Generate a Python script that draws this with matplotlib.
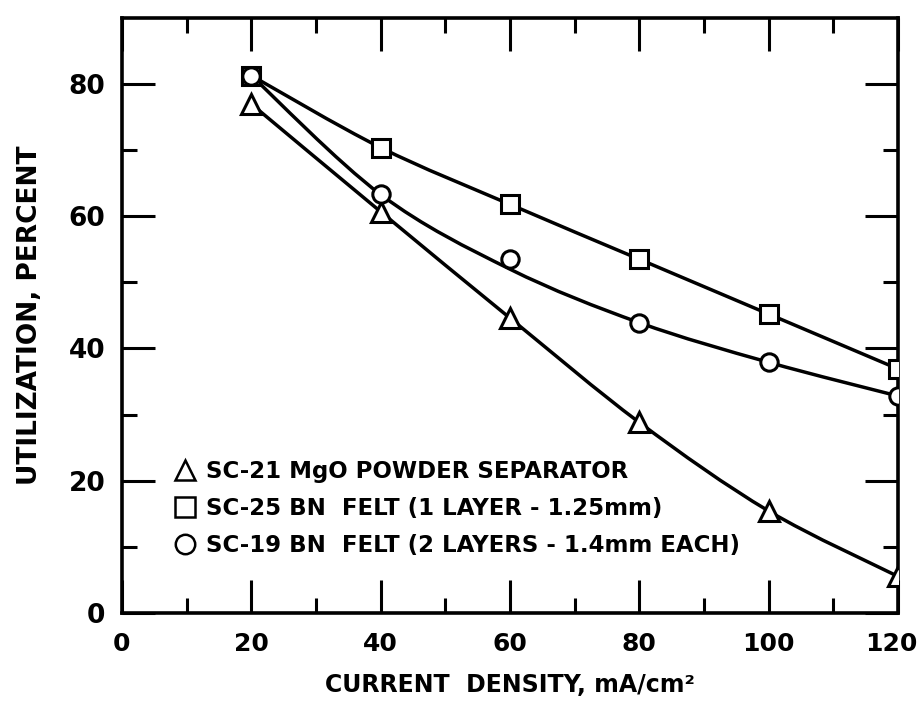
import numpy as np
import matplotlib
matplotlib.use('Agg')
from matplotlib import pyplot as plt
from matplotlib import transforms
from matplotlib.path import Path
from matplotlib.patches import PathPatch
from matplotlib.lines import Line2D

# current density, mA/cm2
current = [20, 40, 60, 80, 100, 120]

# utilization, percent (measured points)
util_sc21 = [77.0, 60.7, 44.6, 28.8, 15.4, 5.5]
util_sc25 = [81.3, 70.4, 61.8, 53.5, 45.2, 36.9]
util_sc19 = [81.3, 63.3, 53.5, 43.9, 37.9, 32.8]

# hand-drawn curve levels for SC-19 (curve misses the 60 point)
curve_sc19 = [81.3, 63.3, 52.0, 43.9, 37.9, 32.8]

labels = ['SC-21 MgO POWDER SEPARATOR',
          'SC-25 BN  FELT (1 LAYER - 1.25mm)',
          'SC-19 BN  FELT (2 LAYERS - 1.4mm EACH)']

x_ticks = [0, 20, 40, 60, 80, 100, 120]
y_ticks = [0, 20, 40, 60, 80]


def smooth_path(x, y):
    """Catmull-Rom through the points, as cubic bezier path."""
    p = np.column_stack([x, y]).astype(float)
    ext = np.vstack([p[0], p, p[-1]])
    verts = [p[0]]
    codes = [Path.MOVETO]
    for i in range(len(p) - 1):
        p0, p1, p2, p3 = ext[i], ext[i + 1], ext[i + 2], ext[i + 3]
        verts += [p1 + (p2 - p0) / 6, p2 - (p3 - p1) / 6, p2]
        codes += [Path.CURVE4] * 3
    return Path(verts, codes)


plt.rcParams['font.family'] = 'DejaVu Sans'
plt.rcParams['font.weight'] = 'bold'

fig = plt.figure(figsize=(9.23, 7.06), dpi=100)
ax = fig.add_axes([0.132, 0.132, 0.841, 0.8425])

lw = 2.5
for yy in [util_sc21, util_sc25, curve_sc19]:
    ax.add_patch(PathPatch(smooth_path(current, yy), fill=False,
                           lw=lw, color='black', zorder=2, capstyle='round'))

mk = dict(ls='none', mfc='white', mec='black', mew=2.2, zorder=3)
ax.plot(current, util_sc21, marker='^', ms=14, **mk)
ax.plot(current, util_sc25, marker='s', ms=12.5, **mk)
ax.plot(current, util_sc19, marker='o', ms=12.5, **mk)

ax.set_xlim(0, 120)
ax.set_ylim(0, 90)
ax.set_xticks(x_ticks)
ax.set_yticks(y_ticks)
ax.set_xticks(np.arange(10, 120, 20), minor=True)
ax.set_yticks(np.arange(10, 90, 20), minor=True)
ax.tick_params(which='both', direction='in', top=True, right=True, width=2.2)
ax.tick_params(which='major', length=24)
ax.tick_params(which='minor', length=11)
ax.tick_params(axis='x', which='major', labelsize=18, pad=14)
ax.tick_params(axis='y', which='major', labelsize=19, pad=12)
for s in ax.spines.values():
    s.set_linewidth(2.6)

# last x label sits on the figure edge, nudge it in a bit
fig.canvas.draw()
last = ax.get_xticklabels()[-1]
last.set_transform(last.get_transform() +
                   transforms.ScaledTranslation(-0.07, 0, fig.dpi_scale_trans))

ax.set_xlabel('CURRENT  DENSITY, mA/cm²', fontsize=17, fontweight='bold', labelpad=12)
ax.set_ylabel('UTILIZATION, PERCENT', fontsize=19, fontweight='bold', labelpad=18)

handles = [Line2D([], [], marker=m, ms=s, ls='none', mfc='white', mec='black', mew=1.8)
           for m, s in [('^', 15), ('s', 14), ('o', 14)]]
ax.legend(handles, labels, loc='upper left', bbox_to_anchor=(0.07, 0.257),
          frameon=False, handlelength=0.8, handletextpad=0.5,
          labelspacing=0.62, borderpad=0, borderaxespad=0,
          prop={'weight': 'bold', 'size': 16.5})

plt.savefig('out.png', dpi=100)
